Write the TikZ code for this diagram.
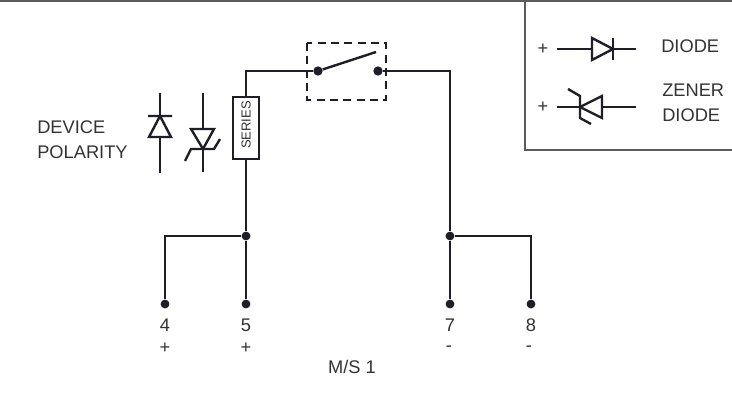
\documentclass[tikz,border=0pt]{standalone}
\usepackage{fontspec}
\setmainfont{Liberation Sans}
\definecolor{wire}{RGB}{30,30,40}
\definecolor{frameline}{RGB}{90,90,95}
\begin{document}
\begin{tikzpicture}[x=0.75pt,y=-0.75pt,
    wirepath/.style={draw=wire,line width=1.8pt},
    dot/.style={circle,fill=wire,inner sep=0pt,minimum size=6.6pt},
    label/.style={font=\fontsize{13.7}{16}\selectfont,text=black!80,align=center,inner sep=0pt},
    seriesbox/.style={draw=wire,fill=white,line width=1.6pt,minimum width=46pt,minimum height=19pt,inner sep=0pt,rotate=90,font=\fontsize{9.8}{10}\selectfont,text=black!80}]

    \useasboundingbox (0,0) rectangle (732,395);

    % frame and legend box
    \draw[frameline,line width=1pt] (0,1) -- (732,1);
    \draw[frameline,line width=1pt] (525,1) -- (525,150) -- (732,150);

    % terminals
    \node[dot] (t4) at (165,304) {};
    \node[dot] (t5) at (246,304) {};
    \node[dot] (t7) at (450,304) {};
    \node[dot] (t8) at (531,304) {};
    \node[dot] (j5) at (246,236) {};
    \node[dot] (j7) at (450,236) {};
    \node[label] (n4) at (165,325) {4};
    \node[label] (n5) at (246,325) {5};
    \node[label] (n7) at (450,325) {7};
    \node[label] (n8) at (531,325) {8};
    \node[label] (p4) at (165,348) {+};
    \node[label] (p5) at (246,348) {+};
    \node[label] (m7) at (449,349) {-};
    \node[label] (m8) at (529,349) {-};
    \node[label] (ms) at (352,367) {M/S 1};

    % switch
    \node[dot,minimum size=7pt] (sw1) at (318,71) {};
    \node[dot,minimum size=7pt] (sw2) at (378,71) {};
    \coordinate (blade) at (376,52);
    \draw[dash pattern=on 6pt off 4pt,draw=wire,line width=1.5pt] (307,43) rectangle (386,100);
    \draw[wirepath] (sw1) -- (blade);

    % wiring
    \node[seriesbox] (series) at (246,128) {\hspace*{4.5pt}SERIES};
    \draw[wirepath] (sw1) -- (246,71) -- (series.east);
    \draw[wirepath] (series.west) -- (j5);
    \draw[wirepath] (j5) -- (t5);
    \draw[wirepath] (j5) -- (165,236) -- (t4);
    \draw[wirepath] (sw2) -- (450,71) -- (j7);
    \draw[wirepath] (j7) -- (t7);
    \draw[wirepath] (j7) -- (531,236) -- (t8);

    % device polarity
    \node[label,align=left,anchor=west] (polarity) at (37,140) {DEVICE\\[3pt]POLARITY};
    \draw[wirepath] (160,93) -- (160,116) (160,137) -- (160,173);
    \draw[wirepath,line join=miter] (148,116) -- (172,116) (160,116) -- (149,137) -- (171,137) -- cycle;
    \draw[wirepath] (203,93) -- (203,129) (203,149) -- (203,172);
    \draw[wirepath,line join=miter] (191,129) -- (214,129) -- (203,149) -- cycle;
    \draw[wirepath] (185,161) -- (191,149) -- (214,149) -- (220,139);

    % legend
    \node[label] (plus1) at (543,49) {+};
    \node[label] (plus2) at (543,107) {+};
    \node[label,anchor=west] (diode) at (661,46) {DIODE};
    \node[label,align=left,anchor=west] (zener) at (662,103) {ZENER\\[3pt]DIODE};
    \draw[wirepath] (557,49) -- (592,49) (613,49) -- (636,49);
    \draw[wirepath,line join=miter] (592,38) -- (592,60) -- (613,49) -- cycle;
    \draw[wirepath] (613,38) -- (613,60);
    \draw[wirepath] (557,107) -- (580,107) (602,107) -- (636,107);
    \draw[wirepath,line join=miter] (602,96) -- (602,118) -- (580,107) -- cycle;
    \draw[wirepath] (568,89) -- (580,96) -- (580,118) -- (591,124);
\end{tikzpicture}
\end{document}
